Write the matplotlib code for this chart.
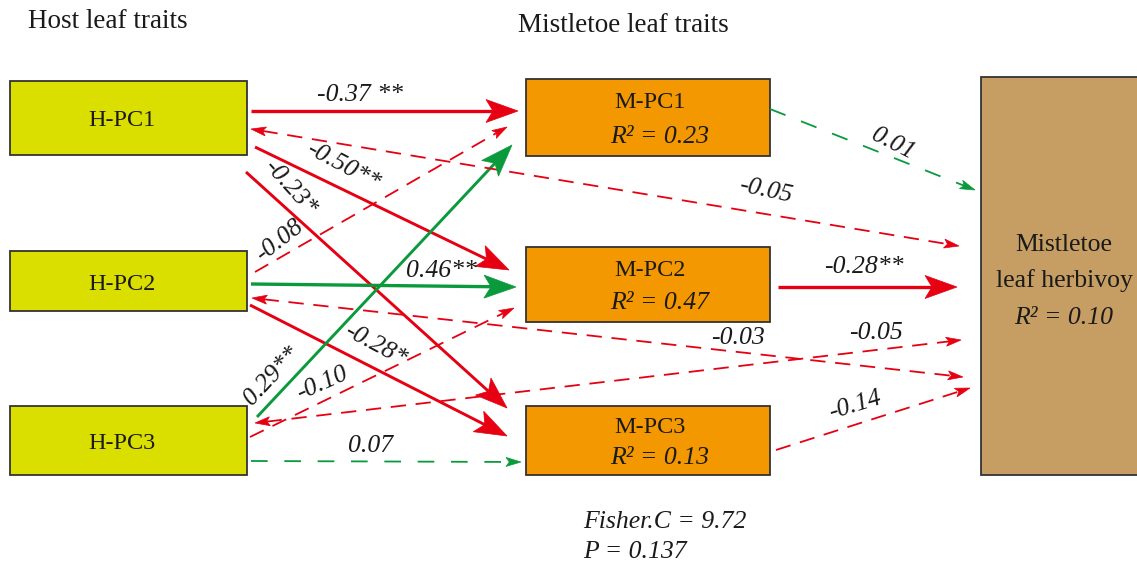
import numpy as np
import matplotlib.pyplot as plt
from matplotlib.patches import Rectangle, Polygon

plt.rcParams['font.family'] = ['Liberation Serif', 'DejaVu Serif']
plt.rcParams['lines.scale_dashes'] = False

# ---------------- model values ----------------
host_names = ['H-PC1', 'H-PC2', 'H-PC3']
mist_names = ['M-PC1', 'M-PC2', 'M-PC3']
mist_r2 = [0.23, 0.47, 0.13]
herb_lines = ['Mistletoe', 'leaf herbivoy']
herb_r2 = 0.10
fisher_c = 9.72
p_value = 0.137

# path coefficients (source -> target)
path_from = ['H-PC1', 'H-PC1', 'H-PC1', 'H-PC2', 'H-PC2', 'H-PC2',
             'H-PC3', 'H-PC3', 'H-PC3', 'M-PC1', 'M-PC2', 'M-PC3',
             'H-PC1', 'H-PC2', 'H-PC3']
path_to = ['M-PC1', 'M-PC2', 'M-PC3', 'M-PC1', 'M-PC2', 'M-PC3',
           'M-PC1', 'M-PC2', 'M-PC3', 'Herb', 'Herb', 'Herb',
           'Herb', 'Herb', 'Herb']
path_coef = [-0.37, -0.50, -0.23, -0.08, 0.46, -0.28,
             0.29, -0.10, 0.07, 0.01, -0.28, -0.14,
             -0.05, -0.03, -0.05]
path_sig = [' **', '**', '*', '', '**', '*',
            '**', '', '', '', '**', '',
            '', '', '']

# ---------------- layout (pixels, y down) ----------------
host_boxes = [(10, 81, 237, 74), (10, 251, 237, 60), (10, 406, 237, 69)]
mist_boxes = [(526, 79, 244, 77), (526, 247, 244, 75), (526, 406, 244, 69)]
herb_box = (981, 77, 170, 398)

# x0, y0, x1, y1, label x, label y, label rotation (None = along line), line width, double headed
path_layout = [
    (251, 111, 518, 111, 360, 95, 0, 2.4, False),
    (255, 147, 509, 270, 343, 166, -28, 2.1, False),
    (246, 172, 507, 408, 290, 188, -48, 2.1, False),
    (255, 272, 507, 127, 280, 241, 38, 1.3, False),
    (251, 284, 516, 287, 441, 271, 0, 2.4, False),
    (250, 305, 507, 436, 375, 345, -28, 2.1, False),
    (257, 417, 512, 145, 272, 376, None, 2.1, False),
    (250, 437, 514, 308, 322, 384, 24, 1.3, False),
    (251, 461, 521, 462, 371, 446, 0, 1.3, False),
    (770, 109, 975, 190, 893, 144, -27, 1.3, False),
    (778, 287, 957, 287, 864, 267, 0, 2.4, False),
    (776, 450, 970, 388, 855, 405, 17, 1.3, False),
    (251, 129, 959, 246, 766, 191, -12, 1.3, True),
    (252, 298, 963, 377, 738, 338, 0, 1.3, True),
    (255, 423, 961, 340, 876, 333, 0, 1.3, True),
]

RED = '#e60012'
GREEN = '#0a9a3c'
TXT = '#1a1a1a'


def draw_head(ax, tip, d, L, W, color, notch=0.22):
    n = np.array([-d[1], d[0]])
    pts = [tip,
           tip - L * d + W / 2 * n,
           tip - (1 - notch) * L * d,
           tip - L * d - W / 2 * n]
    ax.add_patch(Polygon(pts, closed=True, facecolor=color, edgecolor=color,
                         lw=0.5, zorder=4))


def draw_path(ax, lay, coef, sig):
    x0, y0, x1, y1, lx, ly, rot, lw, both = lay
    color = GREEN if coef > 0 else RED
    dashed = sig.strip() == ''
    p0 = np.array([x0, y0], float)
    p1 = np.array([x1, y1], float)
    d = (p1 - p0) / np.hypot(*(p1 - p0))
    if dashed:
        L, W = 15, 9
    else:
        L, W = 32, 23
    a = p0.copy()
    b = p1 - (1 - 0.22) * L * d
    if both:
        a = p0 + (1 - 0.22) * L * d
        draw_head(ax, p0, -d, L, W, color)
    draw_head(ax, p1, d, L, W, color)
    kw = dict(color=color, lw=lw, solid_capstyle='butt', zorder=3)
    if dashed:
        dash = (12, 12) if coef > 0 else (11, 7)
        ax.plot([a[0], b[0]], [a[1], b[1]], dashes=dash, **kw)
    else:
        ax.plot([a[0], b[0]], [a[1], b[1]], **kw)
    if rot is None:
        rot = -np.degrees(np.arctan2(y1 - y0, x1 - x0))
    ax.text(lx, ly, f'{coef:.2f}{sig}', fontsize=18.5, style='italic',
            color=TXT, ha='center', va='center', rotation=rot,
            rotation_mode='anchor', zorder=5)


fig = plt.figure(figsize=(11.37, 5.65), dpi=100)
ax = fig.add_axes([0, 0, 1, 1])
ax.set_xlim(0, 1137)
ax.set_ylim(565, 0)
ax.axis('off')

# boxes
for (x, y, w, h), name in zip(host_boxes, host_names):
    ax.add_patch(Rectangle((x, y), w, h, facecolor='#dbdf00',
                           edgecolor='#333333', lw=1.3, zorder=2))
    ax.text(x + w / 2 - 7, y + h / 2 + 3, name, fontsize=17.5,
            ha='center', va='center', color=TXT, zorder=5)

for (x, y, w, h), name, r2 in zip(mist_boxes, mist_names, mist_r2):
    ax.add_patch(Rectangle((x, y), w, h, facecolor='#f39800',
                           edgecolor='#333333', lw=1.3, zorder=2))
    ax.text(x + w / 2 + 2, y + h * 0.31, name, fontsize=17.5,
            ha='center', va='center', color=TXT, zorder=5)
    ax.text(x + w / 2 + 12, y + h * 0.75, f'R² = {r2:.2f}', fontsize=18.5,
            style='italic', ha='center', va='center', color=TXT, zorder=5)

hx, hy, hw, hh = herb_box
ax.add_patch(Rectangle((hx, hy), hw, hh, facecolor='#c69d62',
                       edgecolor='#333333', lw=1.3, zorder=2))
for yy, line in zip([245, 281], herb_lines):
    ax.text(1064, yy, line, fontsize=18.5, ha='center', va='center',
            color=TXT, zorder=5)
ax.text(1064, 318, f'R² = {herb_r2:.2f}', fontsize=18.5, style='italic',
        ha='center', va='center', color=TXT, zorder=5)

# paths
for lay, coef, sig in zip(path_layout, path_coef, path_sig):
    draw_path(ax, lay, coef, sig)

# headers and fit statistics
ax.text(28, 22, 'Host leaf traits', fontsize=19.5, ha='left', va='center', color=TXT)
ax.text(518, 25, 'Mistletoe leaf traits', fontsize=19.5, ha='left', va='center', color=TXT)
ax.text(583, 522, f'Fisher.C = {fisher_c:.2f}', fontsize=18.5, style='italic',
        ha='left', va='center', color=TXT)
ax.text(583, 552, f'P = {p_value:.3f}', fontsize=18.5, style='italic',
        ha='left', va='center', color=TXT)

fig.savefig('out.png', dpi=100)
